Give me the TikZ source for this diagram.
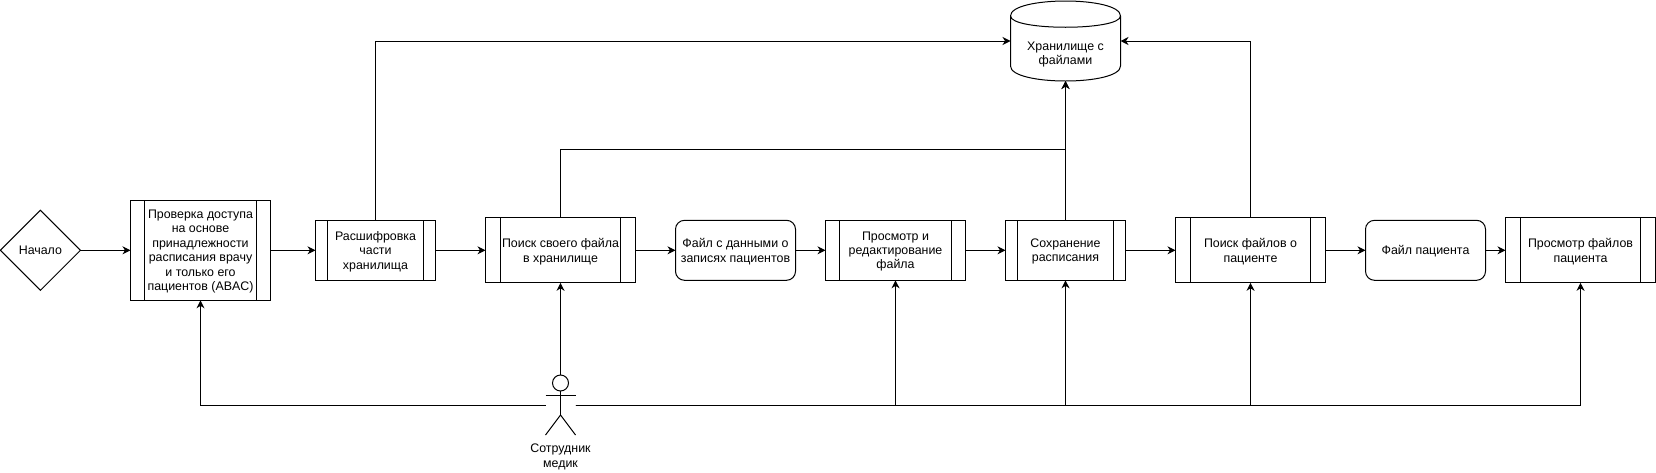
\documentclass[tikz,border=0pt]{standalone}
\usepackage{fontspec}
\setmainfont{Liberation Sans}
\usetikzlibrary{arrows.meta,calc,shapes.geometric}

\begin{document}
\begin{tikzpicture}[x=1pt,y=-1pt,line width=1pt,
    every node/.style={font=\fontsize{12.4}{14.4}\selectfont,align=center,inner sep=0pt,outer sep=0pt,text depth=0pt},
    flow/.style={-{Stealth[length=8pt,width=8pt,inset=2.5pt]}},
    procbox/.style={draw,rectangle,path picture={
      \draw ($(path picture bounding box.north west)!0.1!(path picture bounding box.north east)$)
        -- ($(path picture bounding box.south west)!0.1!(path picture bounding box.south east)$);
      \draw ($(path picture bounding box.north east)!0.1!(path picture bounding box.north west)$)
        -- ($(path picture bounding box.south east)!0.1!(path picture bounding box.south west)$);
    }},
    filebox/.style={draw,rectangle,rounded corners=9pt,minimum width=120,minimum height=60}]
  \useasboundingbox (0,0) rectangle (1656,472);

  % Steps along the middle row
  \node[draw,diamond,minimum width=80,minimum height=80] (start) at (40.4,250.3) {Начало};
  \node[procbox,minimum width=140,minimum height=100] (access) at (200.5,250.3)
    {Проверка доступа\\на основе\\принадлежности\\расписания врачу\\и только его\\пациентов (ABAC)};
  \node[procbox,minimum width=120,minimum height=60] (decrypt) at (375.5,250.3) {Расшифровка\\части\\хранилища};
  \node[procbox,minimum width=150,minimum height=65] (search) at (560.5,250.3) {Поиск своего файла\\в хранилище};
  \node[filebox] (datafile) at (735.5,250.3) {Файл с данными о\\записях пациентов};
  \node[procbox,minimum width=140,minimum height=60] (edit) at (895.5,250.3) {Просмотр и\\редактирование\\файла};
  \node[procbox,minimum width=120,minimum height=60] (save) at (1065.5,250.3) {Сохранение\\расписания};
  \node[procbox,minimum width=150,minimum height=65] (patsearch) at (1250.5,250.3) {Поиск файлов о\\пациенте};
  \node[filebox] (patfile) at (1425.5,250.3) {Файл пациента};
  \node[procbox,minimum width=150,minimum height=65] (patview) at (1580.5,250.3) {Просмотр файлов\\пациента};

  % Storage on top
  \node[minimum width=110,minimum height=80] (storage) at (1065.5,41) {};
  \draw ([yshift=-15pt]storage.north west) .. controls +(0,-20) and +(0,-20) .. ([yshift=-15pt]storage.north east)
    -- ([yshift=15pt]storage.south east) .. controls +(0,20) and +(0,20) .. ([yshift=15pt]storage.south west) -- cycle;
  \draw ([yshift=-15pt]storage.north west) .. controls +(0,15) and +(0,15) .. ([yshift=-15pt]storage.north east);
  \node (storagetext) at (1065.5,53.3) {Хранилище с\\файлами};
  \coordinate (bend) at (1065.5,149);

  % Actor
  \node[minimum width=30,minimum height=60,label={[yshift=-9pt]below:Сотрудник\\медик}] (medic) at (560.5,405) {};
  \draw (560.5,383) circle (8);
  \draw (560.5,391) -- (560.5,415) (545.5,395) -- (575.5,395);
  \draw (545.5,435) -- (560.5,415) -- (575.5,435);

  % Main flow
  \draw[flow] (start) -- (access);
  \draw[flow] (access) -- (decrypt);
  \draw[flow] (decrypt) -- (search);
  \draw[flow] (search) -- (datafile);
  \draw[flow] (datafile) -- (edit);
  \draw[flow] (edit) -- (save);
  \draw[flow] (save) -- (patsearch);
  \draw[flow] (patsearch) -- (patfile);
  \draw[flow] (patfile) -- (patview);

  % Flows to the storage
  \draw[flow] (decrypt.north) |- (storage.west);
  \draw[flow] (search.north) |- (bend) -- (storage.south);
  \draw[flow] (save.north) -- (storage.south);
  \draw[flow] (patsearch.north) |- (storage.east);

  % Flows from the actor
  \draw[flow] (medic.west) -| (access.south);
  \draw[flow] (medic.north) -- (search.south);
  \draw[flow] (medic.east) -| (edit.south);
  \draw[flow] (medic.east) -| (save.south);
  \draw[flow] (medic.east) -| (patsearch.south);
  \draw[flow] (medic.east) -| (patview.south);
\end{tikzpicture}
\end{document}
